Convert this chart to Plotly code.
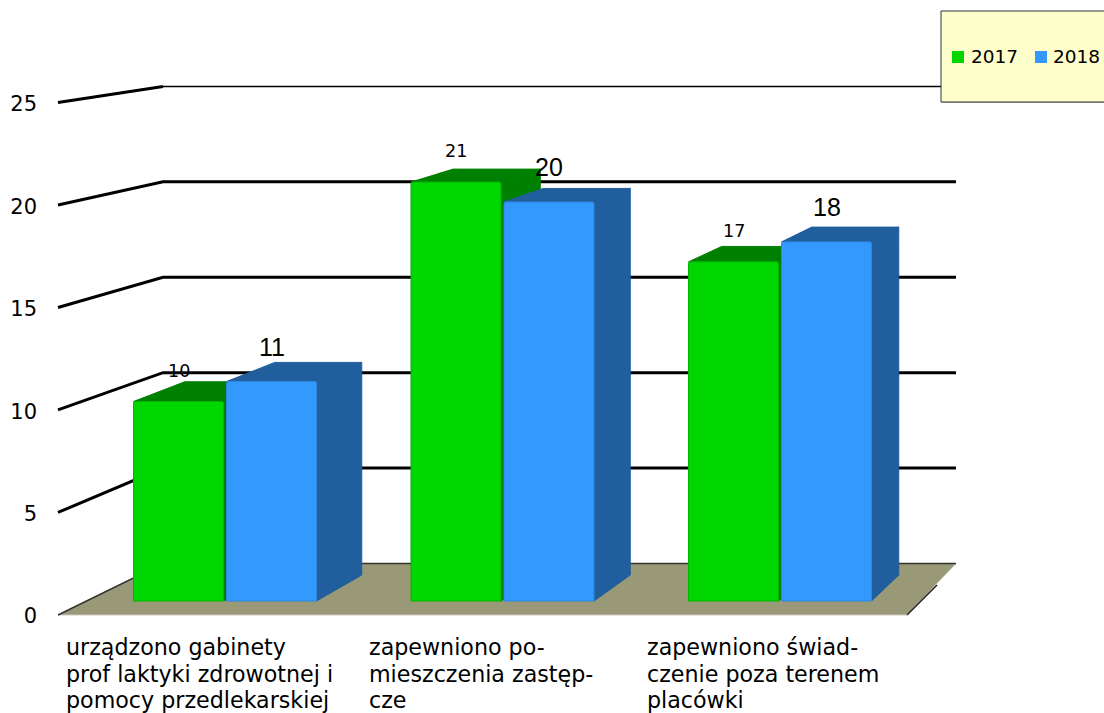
import plotly.graph_objects as go

# ---- data ----
categories = [
    ["urządzono gabinety", "prof laktyki zdrowotnej i", "pomocy przedlekarskiej"],
    ["zapewniono po-", "mieszczenia zastęp-", "cze"],
    ["zapewniono świad-", "czenie poza terenem", "placówki"],
]
series_names = ["2017", "2018"]
values_2017 = [10, 21, 17]
values_2018 = [11, 20, 18]
tick_values = [0, 5, 10, 15, 20, 25]

# ---- styles ----
GREEN, GREEN_DARK, GREEN_EDGE = "#00d600", "#008000", "#00b400"
BLUE, BLUE_DARK, BLUE_EDGE = "#3399ff", "#215e9e", "#2f86dd"
FLOOR = "#999977"
DEJAVU = "DejaVu Sans"
LIB = "Liberation Sans"

W, H = 1104, 713
ML = 44
CAT_PX, CAT0_PX = 277.5, 225.0      # pixels per category, centre of first category
UNIT_PX, ZERO_PX = 19.95, 601.0     # front plane of the bars


def cat(px):
    return (px - CAT0_PX) / CAT_PX


def px_of(c):
    return c * CAT_PX + CAT0_PX


def yv(py):
    return (ZERO_PX - py) / UNIT_PX


# projection of the bar depth
def back_x(c):
    return cat(55.5 + 0.9676 * px_of(c))


def back_y(v):
    return 1.30 + 0.969 * v


# projection of the wall / axis planes
def wall_front(v):
    return -0.70 + 1.0276 * v


def wall_back(v):
    return 1.88 + 0.9565 * v


def path(points, close=True):
    d = "M " + " L ".join(f"{x:.4f},{y:.4f}" for x, y in points)
    return d + (" Z" if close else "")


shapes = []

# floor
floor_pts = [(cat(58), wall_front(0)), (cat(163), wall_back(0)), (cat(956), wall_back(0)), (cat(907), wall_front(0))]
shapes.append(dict(type="path", path=path(floor_pts), fillcolor=FLOOR, line=dict(color="#c9c9b8", width=1), layer="below"))
shapes.append(dict(type="path", path=path([(cat(907), wall_front(0)), (cat(937), yv(585))], False),
                   line=dict(color="#222222", width=1.5), layer="below"))

# grid lines
for t in tick_values:
    if t == 0:
        width, end = 1.5, 956
    elif t == 25:
        width, end = 1.5, 941
    else:
        width, end = 3, 956
    pts = [(cat(58), wall_front(t)), (cat(163), wall_back(t)), (cat(end), wall_back(t))]
    shapes.append(dict(type="path", path=path(pts, False), line=dict(color="#000000" if t else "#333333", width=width), layer="below"))
    if t == 25:
        shapes.append(dict(type="path", path=path(pts[:2], False), line=dict(color="#000000", width=3), layer="below"))

BAR_W = 90 / CAT_PX
OFFSETS = [-91.5 / CAT_PX, 1.5 / CAT_PX]
series = [
    (values_2017, GREEN, GREEN_EDGE, GREEN_DARK),
    (values_2018, BLUE, BLUE_EDGE, BLUE_DARK),
]

# top and side faces of the bars, from the values
for i in range(len(categories)):
    for (vals, _, _, dark), off in zip(series, OFFSETS):
        lx, rx, v = i + off, i + off + BAR_W, vals[i]
        top = [(lx, v), (rx, v), (back_x(rx), back_y(v)), (back_x(lx), back_y(v))]
        side = [(rx, v), (back_x(rx), back_y(v)), (back_x(rx), back_y(0)), (rx, 0)]
        for pts in (top, side):
            shapes.append(dict(type="path", path=path(pts), fillcolor=dark, line=dict(color=dark, width=1), layer="below"))


# legend box
def pxf(px):
    return (px - ML) / (W - ML)


def pyf(py):
    return 1 - py / H


shapes.append(dict(type="rect", xref="paper", yref="paper", x0=pxf(942), x1=pxf(1120), y0=pyf(103), y1=pyf(12),
                   fillcolor="#bbbbbb", line=dict(width=0), layer="above"))
shapes.append(dict(type="rect", xref="paper", yref="paper", x0=pxf(941), x1=pxf(1120), y0=pyf(102), y1=pyf(11),
                   fillcolor="#ffffcc", line=dict(color="#333333", width=1), layer="above"))
shapes.append(dict(type="rect", xref="paper", yref="paper", x0=pxf(952), x1=pxf(964), y0=pyf(63), y1=pyf(51),
                   fillcolor=GREEN, line=dict(width=0), layer="above"))
shapes.append(dict(type="rect", xref="paper", yref="paper", x0=pxf(1035), x1=pxf(1047), y0=pyf(63), y1=pyf(51),
                   fillcolor=BLUE, line=dict(width=0), layer="above"))

annotations = []
# data labels
for i in range(len(categories)):
    annotations.append(dict(x=i + OFFSETS[0] + BAR_W / 2, y=values_2017[i] + 31 / UNIT_PX, text=str(values_2017[i]),
                            showarrow=False, font=dict(family=DEJAVU, size=17.5, color="#000000"),
                            xanchor="center", yanchor="middle"))
    annotations.append(dict(x=i + OFFSETS[1] + BAR_W / 2, y=values_2018[i] + 35 / UNIT_PX, text=str(values_2018[i]),
                            showarrow=False, font=dict(family=LIB, size=25, color="#000000"),
                            xanchor="center", yanchor="middle"))

# category labels, line by line
for px_left, lines in zip([64, 367, 645], categories):
    for row, text in enumerate(lines):
        annotations.append(dict(x=cat(px_left), y=yv(647 + 26.5 * row), text=text, showarrow=False, align="left",
                                xanchor="left", yanchor="middle", font=dict(family=DEJAVU, size=22.2, color="#000000")))

# legend texts
for px_left, name in zip([969, 1051], series_names):
    annotations.append(dict(xref="paper", yref="paper", x=pxf(px_left), y=pyf(56), text=name, showarrow=False,
                            xanchor="left", yanchor="middle", font=dict(family=DEJAVU, size=18.5, color="#000000")))

fig = go.Figure()
for name, (vals, color, edge, _), off in zip(series_names, series, OFFSETS):
    fig.add_trace(go.Bar(x=list(range(len(categories))), y=vals, name=name, width=BAR_W, offset=off,
                         marker=dict(color=color, line=dict(color=edge, width=1)), hoverinfo="x+y"))

# carrier of the value axis labels
fig.add_trace(go.Scatter(x=[0] * len(tick_values), y=tick_values, yaxis="y2", mode="markers",
                         marker=dict(opacity=0), hoverinfo="skip", showlegend=False))

fig.update_layout(
    width=W, height=H, autosize=False, showlegend=False,
    margin=dict(l=ML, r=0, t=0, b=0),
    paper_bgcolor="#ffffff", plot_bgcolor="#ffffff",
    barmode="overlay", barcornerradius=2,
    xaxis=dict(range=[cat(ML), cat(W)], visible=False, fixedrange=True),
    yaxis=dict(range=[yv(H), yv(0)], visible=False, fixedrange=True),
    yaxis2=dict(range=[(616 - H) / 20.48, 616 / 20.48], overlaying="y", side="left", anchor="x",
                tickmode="array", tickvals=tick_values, ticks="", showgrid=False, zeroline=False, showline=False,
                tickfont=dict(family=DEJAVU, size=21, color="#000000"), ticklabelstandoff=6, fixedrange=True),
    shapes=shapes, annotations=annotations,
)

fig.write_html("out.html", config=dict(displayModeBar=False),
               post_script="document.body.style.margin='0';document.documentElement.style.overflow='hidden';")
